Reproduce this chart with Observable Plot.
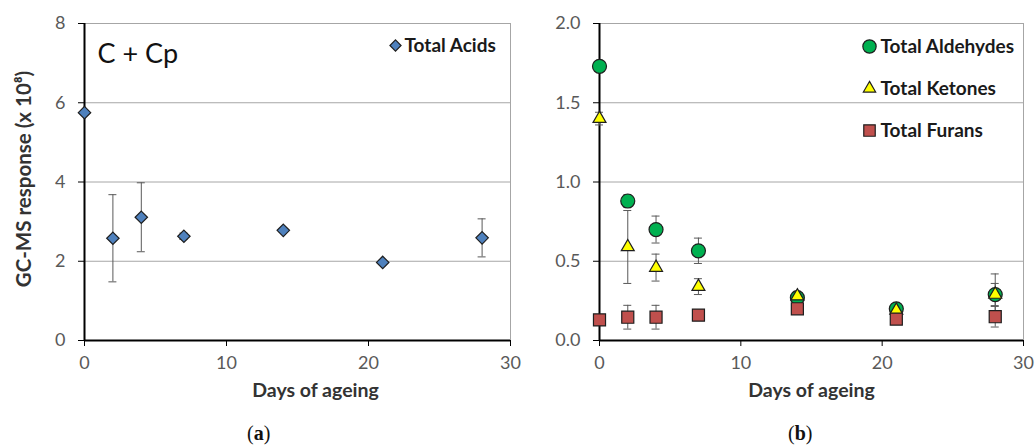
<!DOCTYPE html>
<html><head><meta charset="utf-8">
<script src="https://cdn.jsdelivr.net/npm/d3@7"></script>
<script src="https://cdn.jsdelivr.net/npm/@observablehq/plot@0.6"></script>
<style>
body{margin:0;background:#fff;font-family:Lato,sans-serif;}
#wrap{position:relative;width:1035px;height:447px;overflow:hidden;background:#fff;}
#left,#right{position:absolute;top:0;}
#left{left:0;z-index:1;} #right{left:518px;z-index:2;}
.cap{position:absolute;top:422px;font-family:"Liberation Serif",serif;font-size:20px;color:#111;}
.cap b{font-weight:bold;}
</style></head><body>
<div id="wrap"><div id="left"></div><div id="right"></div>
<div class="cap" style="left:247px">(<b>a</b>)</div>
<div class="cap" style="left:788px">(<b>b</b>)</div>
</div>
<script>
const days = [0, 2, 4, 7, 14, 21, 28];
const acids = [5.75, 2.58, 3.11, 2.63, 2.78, 1.97, 2.59];
const acidsErr = [0, 1.1, 0.87, 0.08, 0.05, 0.05, 0.48];
const aldehydes = [1.73, 0.88, 0.70, 0.566, 0.27, 0.20, 0.29];
const aldehydesErr = [0.02, 0.04, 0.085, 0.08, 0.03, 0.02, 0.13];
const ketones = [1.40, 0.59, 0.46, 0.34, 0.28, 0.19, 0.29];
const ketonesErr = [0.04, 0.23, 0.085, 0.05, 0.03, 0.02, 0.07];
const furans = [0.13, 0.147, 0.147, 0.16, 0.20, 0.135, 0.15];
const furansErr = [0, 0.075, 0.075, 0.02, 0.02, 0.02, 0.065];
const xTicks = [0, 10, 20, 30];
const yTicksA = [0, 2, 4, 6, 8];
const yTicksB = [0, 0.5, 1.0, 1.5, 2.0];
const yLabel = "GC-MS response (x 10⁸)";
const xLabel = "Days of ageing";
const panelLabel = "C + Cp";

const rows = (vals, errs, name) => days.map((d, i) => ({day: d, v: vals[i], e: errs[i], name}));

const tickColor = "#595959";
const gridColor = "#a6a6a6";
const edge = "#1e1e1e";
const FONT = "Lato, sans-serif";

function errMarks(data) {
  const withErr = data.filter(d => d.e > 0);
  return [
    Plot.ruleX(withErr, {x: "day", y1: d => d.v - d.e, y2: d => d.v + d.e, stroke: tickColor, strokeWidth: 1}),
    Plot.ruleY(withErr, {y: d => d.v + d.e, x1: "day", x2: "day", insetLeft: -4, insetRight: -4, stroke: tickColor, strokeWidth: 1}),
    Plot.ruleY(withErr, {y: d => d.v - d.e, x1: "day", x2: "day", insetLeft: -4, insetRight: -4, stroke: tickColor, strokeWidth: 1})
  ];
}

function frameMarks(yTicks, fmt) {
  return [
    Plot.ruleY(yTicks.filter(t => t > 0), {stroke: gridColor, strokeWidth: 1}),
    Plot.ruleX([30], {stroke: gridColor, strokeWidth: 1}),
    Plot.axisY({ticks: yTicks, tickSize: 6, tickPadding: 13, fontSize: 18, tickFormat: fmt, label: null, color: tickColor, stroke: "#000"}),
    Plot.axisX({ticks: xTicks, tickSize: 6, tickPadding: 10, fontSize: 18, label: null, color: tickColor, stroke: "#000"}),
    Plot.ruleX([0], {stroke: "#000", strokeWidth: 2}),
    Plot.ruleY([0], {stroke: "#000", strokeWidth: 2})
  ];
}

// Panel (a)
const acidData = rows(acids, acidsErr, "Total Acids");
const left = Plot.plot({
  width: 540, height: 410,
  marginLeft: 84, marginRight: 30, marginTop: 23, marginBottom: 70,
  style: {fontFamily: FONT, background: "#fff"},
  x: {domain: [0, 30]},
  y: {domain: [0, 8]},
  marks: [
    ...frameMarks(yTicksA, d3.format("d")),
    ...errMarks(acidData),
    Plot.dot(acidData, {x: "day", y: "v", symbol: "diamond2", r: 5.6, fill: "#4f81bd", stroke: edge, strokeWidth: 1.2}),
    Plot.text([panelLabel], {frameAnchor: "top-left", dx: 13, dy: 31, text: d => d, fontSize: 27, fill: "#111", textAnchor: "start", lineAnchor: "middle"}),
    Plot.dot(["Total Acids"], {frameAnchor: "top-left", dx: 311, dy: 22, symbol: "diamond2", r: 5, fill: "#4f81bd", stroke: edge, strokeWidth: 1.2}),
    Plot.text(["Total Acids"], {frameAnchor: "top-left", dx: 320, dy: 22, text: d => d, fontSize: 19, fontWeight: "bold", fill: "#1a1a1a", textAnchor: "start", lineAnchor: "middle"}),
    Plot.text([yLabel], {frameAnchor: "left", dx: -60, dy: -3, rotate: -90, text: d => d, fontSize: 20.5, fontWeight: "bold", fill: "#333", textAnchor: "middle", lineAnchor: "middle"}),
    Plot.text([xLabel], {frameAnchor: "bottom", dx: 18, dy: 56, text: d => d, fontSize: 19.5, fontWeight: "bold", fill: "#333"})
  ]
});
document.getElementById("left").appendChild(left);

// Panel (b)
const aldData = rows(aldehydes, aldehydesErr, "Total Aldehydes");
const ketData = rows(ketones, ketonesErr, "Total Ketones");
const furData = rows(furans, furansErr, "Total Furans");
const series = [
  {name: "Total Aldehydes", data: aldData, symbol: "circle", r: 7, fill: "#00b050"},
  {name: "Total Ketones", data: ketData, symbol: "triangle", r: 4.8, fill: "#ffff00"},
  {name: "Total Furans", data: furData, symbol: "square", r: 6.8, fill: "#c0504d"}
];
const right = Plot.plot({
  width: 517, height: 410,
  marginLeft: 81, marginRight: 12, marginTop: 23, marginBottom: 70,
  style: {fontFamily: FONT, background: "transparent"},
  x: {domain: [0, 30]},
  y: {domain: [0, 2]},
  marks: [
    ...frameMarks(yTicksB, d3.format(".1f")),
    ...series.flatMap(s => errMarks(s.data)),
    ...series.map(s => Plot.dot(s.data, {x: "day", y: "v", symbol: s.symbol, r: s.r, fill: s.fill, stroke: edge, strokeWidth: 1.2})),
    ...series.map((s, i) => Plot.dot([s.name], {frameAnchor: "top-left", dx: 270, dy: 23 + i * 42, symbol: s.symbol, r: s.r * 0.95, fill: s.fill, stroke: edge, strokeWidth: 1.2})),
    ...series.map((s, i) => Plot.text([s.name], {frameAnchor: "top-left", dx: 281, dy: 23 + i * 42, text: d => d, fontSize: 19, fontWeight: "bold", fill: "#1a1a1a", textAnchor: "start", lineAnchor: "middle"})),
    Plot.text([xLabel], {frameAnchor: "bottom", dx: 0, dy: 56, text: d => d, fontSize: 19.5, fontWeight: "bold", fill: "#333"})
  ]
});
document.getElementById("right").appendChild(right);
</script>
</body></html>
